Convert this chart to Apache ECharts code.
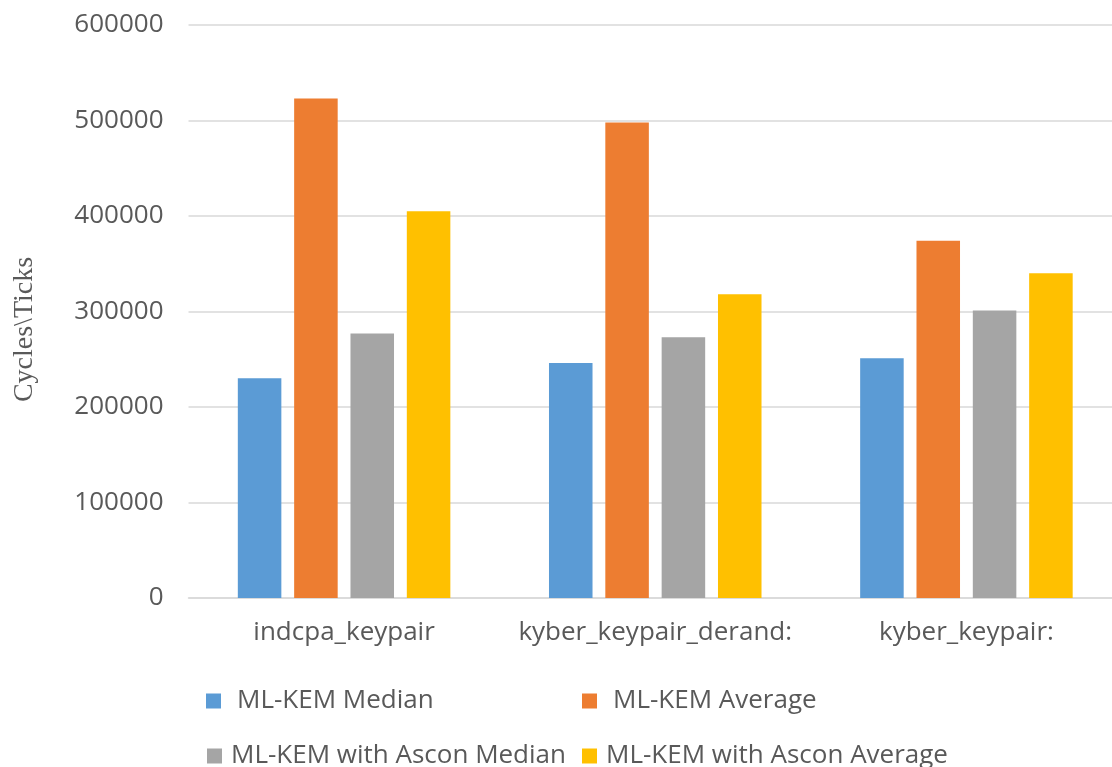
<!DOCTYPE html>
<html>
<head>
<meta charset="utf-8">
<title>ML-KEM keypair cycles</title>
<script src="https://cdn.jsdelivr.net/npm/echarts@6/dist/echarts.min.js"></script>
<style>
  html, body { margin: 0; padding: 0; background: #ffffff; overflow: hidden; }
  /* canvas is a little wider than the window so the plot area runs past the right edge */
  #chart { width: 1122px; height: 767px; }
</style>
</head>
<body>
<div id="chart"></div>
<script>
// Benchmarked functions
const categories = ['indcpa_keypair', 'kyber_keypair_derand:', 'kyber_keypair:'];

// Cycle counts per function
const mlkemMedian = [230000, 246000, 251000];
const mlkemAverage = [523000, 498000, 374000];
const asconMedian = [277000, 273000, 301000];
const asconAverage = [405000, 318000, 340000];

const seriesNames = [
  'ML-KEM Median',
  'ML-KEM Average',
  'ML-KEM with Ascon Median',
  'ML-KEM with Ascon Average'
];
const seriesColors = ['#5B9BD5', '#ED7D31', '#A5A5A5', '#FFC000'];
const seriesData = [mlkemMedian, mlkemAverage, asconMedian, asconAverage];

const textColor = '#595959';
const gridColor = '#d9d9d9';
const uiFont = '"Open Sans", sans-serif';

const chart = echarts.init(document.getElementById('chart'), null, { renderer: 'canvas' });

// One legend block per entry, laid out as a two-column grid
const legendSlots = [
  { left: 206, top: 686, gap: 11 },
  { left: 582, top: 686, gap: 11 },
  { left: 207, top: 741, gap: 4 },
  { left: 582, top: 741, gap: 4 }
];
const legends = legendSlots.map((slot, i) => ({
  data: [seriesNames[i]],
  left: slot.left,
  top: slot.top,
  padding: 0,
  itemWidth: 15,
  itemHeight: 15,
  icon: 'rect',
  textStyle: {
    color: textColor,
    fontFamily: uiFont,
    fontSize: 26,
    lineHeight: 30,
    padding: [0, 0, 0, slot.gap]
  }
}));

const option = {
  backgroundColor: '#ffffff',
  animation: false,
  grid: { left: 188.5, right: 0, top: 25, bottom: 169, containLabel: false },
  legend: legends,
  xAxis: {
    type: 'category',
    data: categories,
    axisTick: { show: false },
    axisLine: { show: true, lineStyle: { color: gridColor, width: 1.5 } },
    axisLabel: {
      color: textColor,
      fontFamily: uiFont,
      fontSize: 26,
      margin: 22,
      interval: 0
    }
  },
  yAxis: {
    type: 'value',
    min: 0,
    max: 600000,
    interval: 100000,
    name: 'Cycles\\Ticks',
    nameLocation: 'middle',
    nameGap: 150,
    nameTextStyle: {
      color: textColor,
      fontFamily: '"Liberation Serif", "DejaVu Serif", serif',
      fontSize: 28,
      padding: [0, 36, 0, 0]
    },
    axisLine: { show: false },
    axisTick: { show: false },
    axisLabel: {
      color: textColor,
      fontFamily: uiFont,
      fontSize: 26,
      margin: 25,
      formatter: (v) => String(v)
    },
    splitLine: { lineStyle: { color: gridColor, width: 1.5 } }
  },
  series: seriesNames.map((name, i) => ({
    name: name,
    type: 'bar',
    data: seriesData[i],
    barGap: '29.4%',
    barCategoryGap: '31.7%',
    itemStyle: { color: seriesColors[i] }
  }))
};

chart.setOption(option);
</script>
</body>
</html>
